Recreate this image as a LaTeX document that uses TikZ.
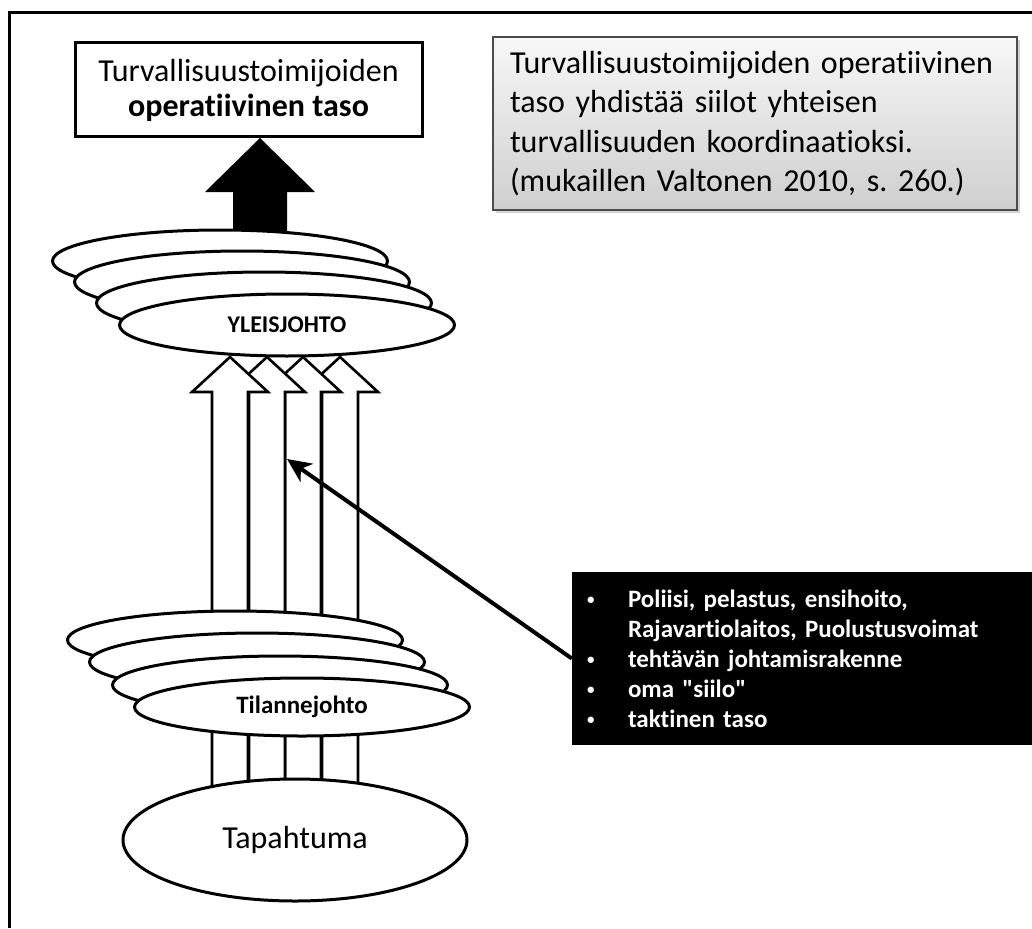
\documentclass[tikz,border=0pt]{standalone}
\usepackage{fontspec}
\setmainfont{Carlito}[Ligatures={NoCommon,TeXOff}]
\usetikzlibrary{shapes.geometric,shadows,arrows.meta}
\newcommand{\pallo}{\makebox[43pt][l]{\hspace{2pt}\raisebox{3pt}{\fontsize{15}{15}\selectfont\textbullet}}}
\frenchspacing

\begin{document}
\begin{tikzpicture}[x=1pt,y=-1pt,
  lvl/.style={ellipse,draw,line width=3pt,fill=white,minimum width=335pt,minimum height=62pt,inner sep=0pt,font=\bfseries\fontsize{24}{28}\selectfont},
  blockarrow/.style={draw,line width=2.6pt,fill=white,line join=miter},
  pointer/.style={line width=4pt,-{Stealth[length=24pt,width=22pt,inset=7pt]}}]
\useasboundingbox (0,0) rectangle (1032,928);
\draw[line width=3pt] (1032,13) -- (9,13) -- (9,928);
\fill (233,236) -- (233,192) -- (205,192) -- (260,138) -- (315,192) -- (287,192) -- (287,236) -- cycle;
\node[lvl] (yleis1) at (220,261) {};
\node[lvl] (yleis2) at (242,282) {};
\node[lvl] (yleis3) at (264,303) {};
\node[lvl] (yleis) at (287,325) {YLEISJOHTO};
\draw[blockarrow] (322,795) -- (322,392) -- (302,392) -- (340,357) -- (378,392) -- (358,392) -- (358,795) -- cycle;
\draw[blockarrow] (285,795) -- (285,392) -- (265,392) -- (303,357) -- (341,392) -- (321,392) -- (321,795) -- cycle;
\draw[blockarrow] (249,795) -- (249,392) -- (229,392) -- (267,357) -- (305,392) -- (285,392) -- (285,795) -- cycle;
\draw[blockarrow] (212,795) -- (212,392) -- (192,392) -- (230,357) -- (268,392) -- (248,392) -- (248,795) -- cycle;
\node[lvl,minimum height=58pt] (tilanne1) at (235,640) {};
\node[lvl,minimum height=58pt] (tilanne2) at (257,662) {};
\node[lvl,minimum height=58pt] (tilanne3) at (280,685) {};
\node[lvl,minimum height=58pt,font=\bfseries\fontsize{25}{30}\selectfont] (tilanne) at (302,707) {Tilannejohto};
\node[lvl,minimum width=344pt,minimum height=122pt,font=\fontsize{32}{38}\selectfont] (tapahtuma) at (295,840) {Tapahtuma};
\node[draw,line width=3pt,fill=white,minimum width=347pt,minimum height=94pt,align=center,font=\fontsize{32}{35}\selectfont] (optaso) at (248.5,90) {Turvallisuustoimijoiden\\\textbf{operatiivinen taso}};
\node[draw=black!70,line width=1.5pt,top color=gray!6,bottom color=gray!38,drop shadow={opacity=0.35,shadow xshift=3pt,shadow yshift=-3pt},minimum width=524pt,minimum height=173pt,text width=490pt,inner xsep=17pt,align=left,font=\fontsize{32}{39.5}\selectfont] (huomio) at (755,123.5) {Turvallisuustoimijoiden operatiivinen\\taso yhdistää siilot yhteisen\\turvallisuuden koordinaatioksi.\\(mukaillen Valtonen 2010, s. 260.)};
\node[fill=black,text=white,minimum height=173pt,text width=434pt,inner xsep=13pt,align=left,font=\bfseries\fontsize{25}{30}\selectfont] (siilo) at (802,658.5) {\pallo Poliisi, pelastus, ensihoito,\\\hspace*{43pt}Rajavartiolaitos, Puolustusvoimat\\\pallo tehtävän johtamisrakenne\\\pallo oma "siilo"\\\pallo taktinen taso};
\coordinate (kohde) at (287,459);
\draw[pointer] (siilo.west) -- (kohde);
\end{tikzpicture}
\end{document}
